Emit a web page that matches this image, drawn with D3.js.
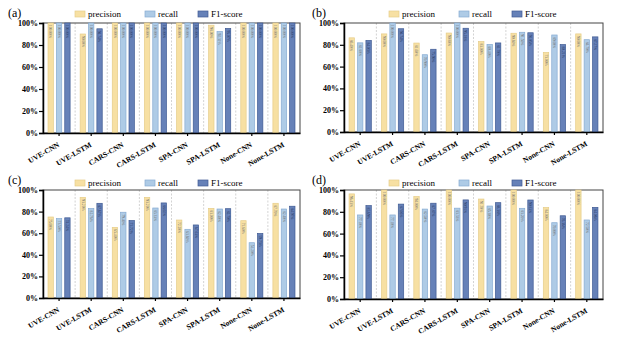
<!DOCTYPE html>
<html>
<head>
  <script src="https://d3js.org/d3.v7.min.js"></script>
  <style>
    body { margin: 0; background: #fff; }
    svg { display: block; font-family: "Liberation Serif", "Times New Roman", serif; }
    .axis path, .axis line { stroke: #000; }
    .axis text { font-family: "Liberation Serif", serif; fill: #000; }
  </style>
</head>
<body>
  <svg id="chart" width="626" height="342"></svg>
  <script>
    var categories = ['UVE-CNN', 'UVE-LSTM', 'CARS-CNN', 'CARS-LSTM', 'SPA-CNN', 'SPA-LSTM', 'None-CNN', 'None-LSTM'];
    var seriesNames = ['precision', 'recall', 'F1-score'];
    var yTicks = [0, 20, 40, 60, 80, 100];

    // (a)
    var precisionA = [100, 90.00, 100, 100, 100, 98.00, 100, 100];
    var recallA = [100, 100, 100, 100, 100, 92.31, 100, 100];
    var f1A = [100, 94.74, 100, 100, 100, 95.07, 100, 100];
    // (b)
    var precisionB = [86.40, 90.00, 81.60, 90.80, 83.00, 90.60, 73.00, 90.00];
    var recallB = [81.80, 100, 70.90, 100, 80.40, 91.50, 89.00, 84.70];
    var f1B = [84.03, 94.74, 75.90, 95.18, 81.70, 91.05, 80.21, 87.27];
    // (c)
    var precisionC = [75.00, 93.20, 65.40, 93.20, 72.20, 83.00, 71.60, 87.70];
    var recallC = [73.50, 82.76, 79.40, 83.33, 63.60, 82.40, 51.20, 82.40];
    var f1C = [74.24, 87.67, 71.72, 88.02, 67.63, 82.70, 59.73, 84.97];
    // (d)
    var precisionD = [96.43, 100, 94.00, 100, 91.70, 100, 84.00, 100];
    var recallD = [77.10, 77.10, 82.50, 83.33, 85.30, 83.20, 70.00, 72.50];
    var f1D = [85.69, 87.06, 87.87, 90.91, 88.38, 90.83, 76.36, 84.06];

    var fills = { 'precision': '#f7e0a3', 'recall': '#aecbe6', 'F1-score': '#6681b8' };
    var strokes = { 'precision': '#e6cd8a', 'recall': '#87abd2', 'F1-score': '#3f5a93' };

    var panels = [
      { label: '(a)', values: [precisionA, recallA, f1A], left: 43, right: 300, top: 23, bottom: 133, tx: 8, ty: 17, lx: 75, ly: 11 },
      { label: '(b)', values: [precisionB, recallB, f1B], left: 344, right: 603, top: 23, bottom: 132, tx: 312, ty: 17, lx: 389, ly: 11 },
      { label: '(c)', values: [precisionC, recallC, f1C], left: 43, right: 300, top: 190, bottom: 298, tx: 8, ty: 184, lx: 75, ly: 180 },
      { label: '(d)', values: [precisionD, recallD, f1D], left: 344, right: 603, top: 190, bottom: 299, tx: 312, ty: 184, lx: 389, ly: 180 }
    ];

    var svg = d3.select('#chart');
    svg.append('rect').attr('width', 626).attr('height', 342).attr('fill', '#fff');

    panels.forEach(function (p) {
      var g = svg.append('g');

      var x = d3.scaleBand().domain(categories).range([p.left, p.right]);
      var xs = d3.scaleBand().domain(seriesNames).range([0, x.bandwidth()])
        .paddingInner(0.36).paddingOuter(0.6);
      var y = d3.scaleLinear().domain([0, 100]).range([p.bottom, p.top]);

      // dashed separators between groups
      g.selectAll('line.sep')
        .data(categories.slice(1))
        .enter().append('line')
        .attr('class', 'sep')
        .attr('x1', function (d) { return x(d); })
        .attr('x2', function (d) { return x(d); })
        .attr('y1', p.top)
        .attr('y2', p.bottom)
        .attr('stroke', '#c8c8c8')
        .attr('stroke-width', 0.8)
        .attr('stroke-dasharray', '2,1.5');

      // frame
      g.append('rect')
        .attr('x', p.left).attr('y', p.top)
        .attr('width', p.right - p.left).attr('height', p.bottom - p.top)
        .attr('fill', 'none').attr('stroke', '#444').attr('stroke-width', 1);

      var rows = [];
      categories.forEach(function (c, i) {
        seriesNames.forEach(function (s, j) {
          rows.push({ cat: c, series: s, value: p.values[j][i] });
        });
      });

      var bar = g.selectAll('g.bar')
        .data(rows)
        .enter().append('g')
        .attr('class', 'bar');

      bar.append('rect')
        .attr('x', function (d) { return x(d.cat) + xs(d.series); })
        .attr('y', function (d) { return y(d.value); })
        .attr('width', xs.bandwidth())
        .attr('height', function (d) { return p.bottom - y(d.value); })
        .attr('fill', function (d) { return fills[d.series]; })
        .attr('stroke', function (d) { return strokes[d.series]; })
        .attr('stroke-width', 0.7);

      bar.append('text')
        .attr('transform', function (d) {
          var cx = x(d.cat) + xs(d.series) + xs.bandwidth() / 2;
          return 'translate(' + cx + ',' + (y(d.value) + 2) + ') rotate(90)';
        })
        .attr('dy', '0.35em')
        .attr('font-size', 3.6)
        .attr('fill', function (d) { return d.series === 'F1-score' ? '#24365e' : '#6b6b6b'; })
        .text(function (d) { return d.value.toFixed(2) + '%'; });

      var yAxis = g.append('g')
        .attr('class', 'axis')
        .attr('transform', 'translate(' + p.left + ',0)')
        .call(d3.axisLeft(y).tickValues(yTicks).tickSize(4).tickFormat(function (d) { return d + '%'; }));
      yAxis.select('.domain').attr('stroke-width', 1.5);
      yAxis.selectAll('line').attr('stroke-width', 1.2);
      yAxis.selectAll('text').attr('font-size', 8).attr('font-weight', 'bold').attr('x', -5);

      var xAxis = g.append('g')
        .attr('class', 'axis')
        .attr('transform', 'translate(0,' + p.bottom + ')')
        .call(d3.axisBottom(x).tickSize(3).tickSizeOuter(0));
      xAxis.select('.domain').attr('stroke-width', 1.5);
      xAxis.selectAll('line').attr('stroke-width', 1.2);
      xAxis.selectAll('text')
        .attr('font-size', 7.5)
        .attr('font-weight', 'bold')
        .attr('text-anchor', 'end')
        .attr('dy', 0)
        .attr('transform', 'translate(-2,8) rotate(-30)');

      // panel label
      g.append('text')
        .attr('x', p.tx).attr('y', p.ty)
        .attr('font-size', 12)
        .text(p.label);

      // legend
      var legendOffsets = [0, 70, 123];
      var legend = g.selectAll('g.legend')
        .data(seriesNames)
        .enter().append('g')
        .attr('class', 'legend')
        .attr('transform', function (d, i) { return 'translate(' + (p.lx + legendOffsets[i]) + ',' + p.ly + ')'; });
      legend.append('rect')
        .attr('width', 10).attr('height', 6)
        .attr('fill', function (d) { return fills[d]; })
        .attr('stroke', function (d) { return strokes[d]; })
        .attr('stroke-width', 0.7);
      legend.append('text')
        .attr('x', 13).attr('y', 3)
        .attr('dy', '0.35em')
        .attr('font-size', 9)
        .text(function (d) { return d; });
    });
  </script>
</body>
</html>
